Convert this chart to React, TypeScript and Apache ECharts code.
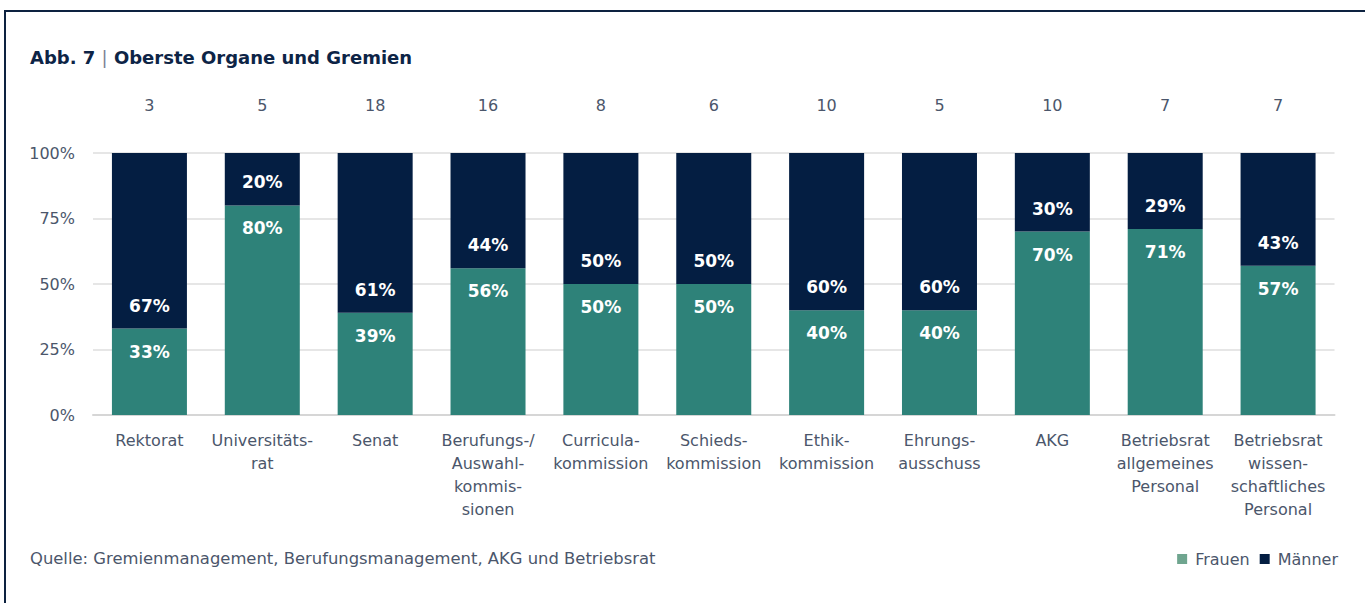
import React, { useEffect, useRef } from "react";
import * as echarts from "echarts";

const categories = [
  "Rektorat",
  "Universitäts-\nrat",
  "Senat",
  "Berufungs-/\nAuswahl-\nkommis-\nsionen",
  "Curricula-\nkommission",
  "Schieds-\nkommission",
  "Ethik-\nkommission",
  "Ehrungs-\nausschuss",
  "AKG",
  "Betriebsrat\nallgemeines\nPersonal",
  "Betriebsrat\nwissen-\nschaftliches\nPersonal",
];
const counts = ["3", "5", "18", "16", "8", "6", "10", "5", "10", "7", "7"];
const frauen = [33, 80, 39, 56, 50, 50, 40, 40, 70, 71, 57];
const maenner = [67, 20, 61, 44, 50, 50, 60, 60, 30, 29, 43];
const yTicks = [0, 25, 50, 75, 100];

const FONT = "DejaVu Sans";
const NAVY = "#041e42";
const GREEN = "#2e8279";
const TEXT = "#4b566b";

export default function App() {
  const ref = useRef<HTMLDivElement>(null);
  useEffect(() => {
    if (!ref.current) return;
    const chart = echarts.init(ref.current, undefined, { renderer: "svg" });
    const labelCommon = {
      show: true,
      color: "#ffffff",
      fontFamily: FONT,
      fontWeight: "bold" as const,
      fontSize: 17,
      lineHeight: 18,
      distance: 14,
      formatter: "{c}%",
    };
    chart.setOption({
      animation: false,
      backgroundColor: "#ffffff",
      textStyle: { fontFamily: FONT },
      title: {
        left: 30,
        top: 48,
        padding: 0,
        text: "{b|Abb. 7} {s||} {b|Oberste Organe und Gremien}",
        textStyle: {
          rich: {
            b: { fontFamily: FONT, fontSize: 18, fontWeight: "bold", color: "#0d2446" },
            s: { fontFamily: FONT, fontSize: 18, fontWeight: "normal", color: "#7a8396" },
          },
        },
      },
      legend: {
        right: 27,
        top: 551,
        padding: 0,
        itemWidth: 10,
        itemHeight: 10,
        itemGap: 10,
        icon: "rect",
        textStyle: { fontFamily: FONT, fontSize: 16, color: TEXT, padding: [0, 0, 0, 3] },
        data: [
          { name: "Frauen", itemStyle: { color: "#6fa58f" } },
          { name: "Männer", itemStyle: { color: NAVY } },
        ],
      },
      graphic: [
        {
          type: "rect",
          shape: { x: 5, y: 11, width: 1400, height: 700 },
          style: { fill: "none", stroke: "#0d2240", lineWidth: 2 },
          silent: true,
        },
        {
          type: "text",
          x: 30,
          y: 558,
          style: {
            text: "Quelle: Gremienmanagement, Berufungsmanagement, AKG und Betriebsrat",
            fontFamily: FONT,
            fontSize: 16.4,
            fill: TEXT,
            verticalAlign: "middle",
          },
        },
      ],
      grid: { left: 93, right: 30.5, top: 153, height: 262, containLabel: false },
      xAxis: [
        {
          type: "category",
          data: categories,
          axisTick: { show: false },
          axisLine: { show: true, lineStyle: { color: "#d6d6d6", width: 2 } },
          axisLabel: {
            interval: 0,
            margin: 14,
            fontFamily: FONT,
            fontSize: 16,
            lineHeight: 23,
            color: TEXT,
          },
        },
        {
          type: "category",
          position: "top",
          data: counts,
          axisTick: { show: false },
          axisLine: { show: false },
          axisLabel: {
            interval: 0,
            margin: 40,
            fontFamily: FONT,
            fontSize: 16,
            color: TEXT,
          },
        },
      ],
      yAxis: {
        type: "value",
        min: yTicks[0],
        max: yTicks[yTicks.length - 1],
        interval: 25,
        axisLine: { show: false },
        axisTick: { show: false },
        splitLine: { lineStyle: { color: "#e6e6e6", width: 2 } },
        axisLabel: {
          margin: 18,
          formatter: "{value}%",
          fontFamily: FONT,
          fontSize: 16,
          color: TEXT,
        },
      },
      series: [
        {
          name: "Frauen",
          type: "bar",
          stack: "total",
          barWidth: 75,
          data: frauen,
          itemStyle: { color: GREEN },
          label: { ...labelCommon, position: "insideTop" },
        },
        {
          name: "Männer",
          type: "bar",
          stack: "total",
          barWidth: 75,
          data: maenner,
          itemStyle: { color: NAVY },
          label: { ...labelCommon, position: "insideBottom" },
        },
      ],
    });
    return () => chart.dispose();
  }, []);
  return (
    <div
      ref={ref}
      style={{ position: "fixed", left: 0, top: 0, width: 1365, height: 603 }}
    />
  );
}
